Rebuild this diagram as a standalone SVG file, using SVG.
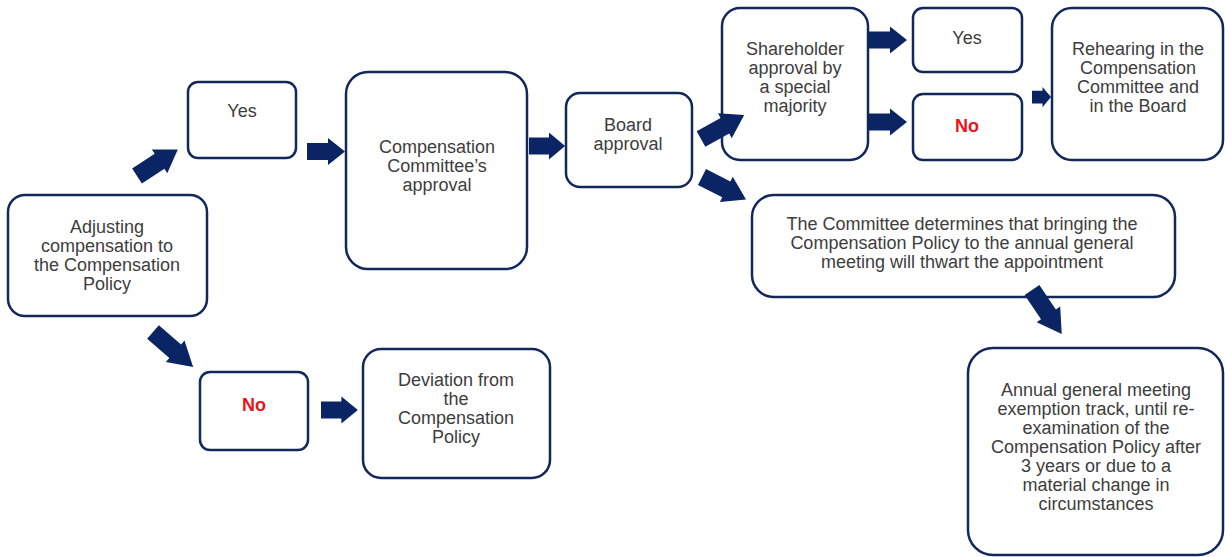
<svg xmlns="http://www.w3.org/2000/svg" width="1225" height="557" viewBox="0 0 1225 557">
<style>
.box{fill:#fff;stroke:#13285a;stroke-width:2.5}
.t{font-family:"Liberation Sans",Arial,sans-serif;font-size:18px;fill:#3d3d3d;text-anchor:middle}
.no{font-family:"Liberation Sans",Arial,sans-serif;font-size:18px;font-weight:bold;fill:#e8141b;text-anchor:middle}
.arr{fill:#0b2463}
</style>
<defs>
<path id="a" d="M0,-8.5 H21 V-13.5 L38,0 L21,13.5 V8.5 H0 Z"/>
</defs>
<rect width="1225" height="557" fill="#fff"/>
<g id="adjusting">
<rect class="box" x="8" y="195" width="199" height="121" rx="17"/>
<text class="t" x="107" y="233">Adjusting</text>
<text class="t" x="107" y="252">compensation to</text>
<text class="t" x="107" y="271">the Compensation</text>
<text class="t" x="107" y="290">Policy</text>
</g>
<g id="yes1">
<rect class="box" x="188" y="82" width="108" height="76" rx="10"/>
<text class="t" x="242" y="117">Yes</text>
</g>
<g id="committee-approval">
<rect class="box" x="346" y="72" width="181" height="197" rx="22"/>
<text class="t" x="437" y="153">Compensation</text>
<text class="t" x="437" y="172">Committee’s</text>
<text class="t" x="437" y="191">approval</text>
</g>
<g id="board">
<rect class="box" x="566" y="93" width="126" height="94" rx="14"/>
<text class="t" x="628" y="131">Board</text>
<text class="t" x="628" y="150">approval</text>
</g>
<g id="shareholder">
<rect class="box" x="722" y="8" width="146" height="152" rx="18"/>
<text class="t" x="795" y="55">Shareholder</text>
<text class="t" x="795" y="74">approval by</text>
<text class="t" x="795" y="93">a special</text>
<text class="t" x="795" y="112">majority</text>
</g>
<g id="yes2">
<rect class="box" x="913" y="8" width="109" height="64" rx="10"/>
<text class="t" x="967" y="44">Yes</text>
</g>
<g id="no2">
<rect class="box" x="913" y="94" width="109" height="66" rx="10"/>
<text class="no" x="967" y="132">No</text>
</g>
<g id="rehearing">
<rect class="box" x="1052" y="8" width="171" height="152" rx="20"/>
<text class="t" x="1138" y="55">Rehearing in the</text>
<text class="t" x="1138" y="74">Compensation</text>
<text class="t" x="1138" y="93">Committee and</text>
<text class="t" x="1138" y="112">in the Board</text>
</g>
<g id="determines">
<rect class="box" x="752" y="195" width="423" height="102" rx="22"/>
<text class="t" x="962" y="230">The Committee determines that bringing the</text>
<text class="t" x="962" y="249">Compensation Policy to the annual general</text>
<text class="t" x="962" y="268">meeting will thwart the appointment</text>
</g>
<g id="annual">
<rect class="box" x="968" y="348" width="255" height="207" rx="25"/>
<text class="t" x="1096" y="396">Annual general meeting</text>
<text class="t" x="1096" y="415">exemption track, until re-</text>
<text class="t" x="1096" y="434">examination of the</text>
<text class="t" x="1096" y="453">Compensation Policy after</text>
<text class="t" x="1096" y="472">3 years or due to a</text>
<text class="t" x="1096" y="491">material change in</text>
<text class="t" x="1096" y="510">circumstances</text>
</g>
<g id="no1">
<rect class="box" x="200" y="372" width="108" height="78" rx="10"/>
<text class="no" x="254" y="411">No</text>
</g>
<g id="deviation">
<rect class="box" x="363" y="349" width="187" height="129" rx="18"/>
<text class="t" x="456" y="386">Deviation from</text>
<text class="t" x="456" y="405">the</text>
<text class="t" x="456" y="424">Compensation</text>
<text class="t" x="456" y="443">Policy</text>
</g>
<g id="connectors" class="arr">
<use href="#a" transform="translate(137,176) rotate(-33) scale(1.28,1.05)"/>
<use href="#a" transform="translate(307,151.5)"/>
<use href="#a" transform="translate(529,146) scale(0.95,1)"/>
<use href="#a" transform="translate(701,139) rotate(-29) scale(1.3,1.05)"/>
<use href="#a" transform="translate(702,177) rotate(27) scale(1.3,1.05)"/>
<use href="#a" transform="translate(869,40)"/>
<use href="#a" transform="translate(869,122)"/>
<use href="#a" transform="translate(1032,97) scale(0.5,0.75)"/>
<use href="#a" transform="translate(1032,290) rotate(56) scale(1.4,1.05)"/>
<use href="#a" transform="translate(153,332) rotate(41) scale(1.4,1.05)"/>
<use href="#a" transform="translate(321,410) scale(0.97,1)"/>
</g>
</svg>
